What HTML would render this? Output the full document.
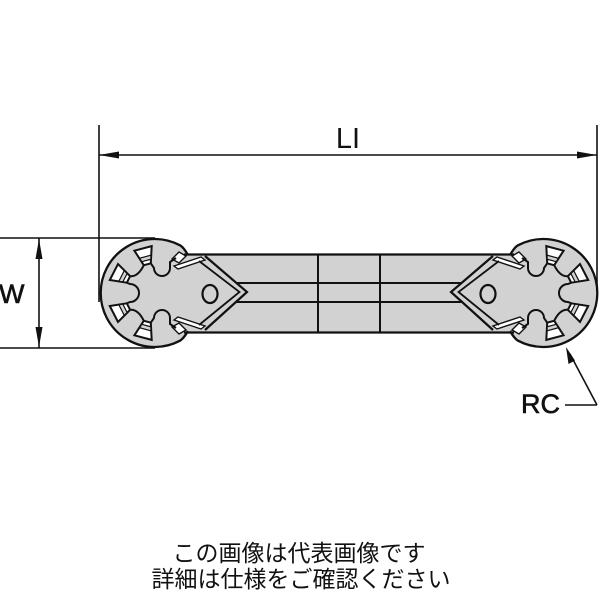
<!DOCTYPE html>
<html><head><meta charset="utf-8"><style>
html,body{margin:0;padding:0;background:#fff;}
svg{display:block;}
</style></head><body>
<svg width="600" height="600" viewBox="0 0 600 600" xmlns="http://www.w3.org/2000/svg">
<defs>
<g id="head">
  <!-- head fill + outline -->
  <path d="M188,255 C185,250 183,247 180,245.3 A54 54 0 1 0 180,340.7 C183,339 185,336 188,331" fill="#d2d2d2" stroke="#111" stroke-width="2.3"/>
  <!-- shoulder strips top -->
  <polygon points="172,259 179,252 186,256 179,263" fill="#fff" stroke="#111" stroke-width="1.4"/>
  <polygon points="174,266 201,257 205,260 178,269" fill="#fff" stroke="#111" stroke-width="1.4"/>
  <!-- shoulder strips bottom -->
  <polygon points="172,327 179,334 186,330 179,323" fill="#fff" stroke="#111" stroke-width="1.4"/>
  <polygon points="174,320 201,329 205,326 178,317" fill="#fff" stroke="#111" stroke-width="1.4"/>
  <!-- V shape -->
  <polyline points="205,256 247,292 205,330" fill="none" stroke="#111" stroke-width="2.2"/>
  <polyline points="199,261 239.5,292 199,325" fill="none" stroke="#111" stroke-width="1.8"/>
  <!-- hole -->
  <ellipse cx="210" cy="294" rx="7.5" ry="9" fill="#d2d2d2" stroke="#111" stroke-width="2.2"/>
  <!-- windows -->
  <polygon points="134.4,250.7 151.7,246.1 150.8,263.3 143.8,265.2" fill="#fff" stroke="#111" stroke-width="2"/>
  <polygon points="118.0,264.1 109.8,280.0 126.8,282.7 130.1,276.2" fill="#fff" stroke="#111" stroke-width="2"/>
  <polygon points="109.8,306.0 118.0,321.9 130.1,309.8 126.8,303.3" fill="#fff" stroke="#111" stroke-width="2"/>
  <polygon points="134.4,335.3 151.7,339.9 150.8,322.7 143.8,320.8" fill="#fff" stroke="#111" stroke-width="2"/>
  <!-- bands -->
  <polygon points="141.75,261.69 150.82,259.26 150.95,255.22 139.62,258.25" fill="#d2d2d2" stroke="#111" stroke-width="1.2"/>
  <polygon points="122.86,281.90 127.13,273.53 124.21,270.73 118.88,281.18" fill="#d2d2d2" stroke="#111" stroke-width="1.2"/>
  <polygon points="122.86,304.10 127.13,312.47 124.21,315.27 118.88,304.82" fill="#d2d2d2" stroke="#111" stroke-width="1.2"/>
  <polygon points="141.75,324.31 150.82,326.74 150.95,330.78 139.62,327.75" fill="#d2d2d2" stroke="#111" stroke-width="1.2"/>
  <!-- fingers / central boundary -->
  <path d="M176,258 L170,262 L170,268 A8 8 0 0 1 154,268 L150.8,263.3" fill="none" stroke="#111" stroke-width="2"/>
  <path d="M143.8,265.2 Q138,277 130.1,276.2" fill="none" stroke="#111" stroke-width="2"/>
  <path d="M126.8,282.7 L130,284 A9 9 0 0 1 130,302 L126.8,303.3" fill="none" stroke="#111" stroke-width="2"/>
  <path d="M130.1,309.8 Q138,309 143.8,320.8" fill="none" stroke="#111" stroke-width="2"/>
  <path d="M150.8,322.7 L154,318 A8 8 0 0 1 170,318 L170,324 L176,328" fill="none" stroke="#111" stroke-width="2"/>
</g>
</defs>

<!-- bar -->
<rect x="184" y="254.5" width="330" height="78" fill="#d2d2d2"/>
<use href="#head"/>
<use href="#head" transform="translate(698,0) scale(-1,1)"/>
<line x1="184" y1="254.5" x2="514" y2="254.5" stroke="#111" stroke-width="2.2"/>
<line x1="184" y1="332.5" x2="514" y2="332.5" stroke="#111" stroke-width="2.2"/>
<line x1="236.5" y1="283" x2="461.5" y2="283" stroke="#111" stroke-width="2"/>
<line x1="236" y1="302" x2="462" y2="302" stroke="#111" stroke-width="2"/>
<line x1="318" y1="254.5" x2="318" y2="332.5" stroke="#111" stroke-width="2"/>
<line x1="380" y1="254.5" x2="380" y2="332.5" stroke="#111" stroke-width="2"/>

<!-- LI dimension -->
<line x1="99" y1="125" x2="99" y2="302" stroke="#111" stroke-width="1.6"/>
<line x1="597" y1="125" x2="597" y2="292" stroke="#111" stroke-width="1.6"/>
<line x1="99" y1="155" x2="597" y2="155" stroke="#111" stroke-width="1.6"/>
<polygon points="99,155 119,151.5 119,158.5" fill="#111"/>
<polygon points="597,155 577,151.5 577,158.5" fill="#111"/>
<text x="348" y="148" font-family="Liberation Sans, sans-serif" font-size="29" text-anchor="middle" fill="#111">LI</text>

<!-- W dimension -->
<line x1="0" y1="238" x2="155" y2="238" stroke="#111" stroke-width="1.6"/>
<line x1="0" y1="348" x2="155" y2="348" stroke="#111" stroke-width="1.6"/>
<line x1="39" y1="238" x2="39" y2="348" stroke="#111" stroke-width="1.6"/>
<polygon points="39,239 35.5,259 42.5,259" fill="#111"/>
<polygon points="39,347 35.5,327 42.5,327" fill="#111"/>
<text x="-1" y="303" font-family="Liberation Sans, sans-serif" font-size="27" fill="#111" stroke="#111" stroke-width="0.6">W</text>

<!-- RC leader -->
<line x1="565" y1="405" x2="597" y2="405" stroke="#111" stroke-width="1.6"/>
<line x1="597" y1="405" x2="570" y2="354" stroke="#111" stroke-width="1.6"/>
<polygon points="566,347 568.5,364 575,360.5" fill="#111"/>
<text x="521" y="413" font-family="Liberation Sans, sans-serif" font-size="27" fill="#111" stroke="#111" stroke-width="0.6">RC</text>

<!-- Japanese note -->
<text x="299" y="561" font-family="Liberation Sans, Noto Sans CJK JP, sans-serif" font-size="23" text-anchor="middle" fill="#111">この画像は代表画像です</text>
<text x="301" y="587" font-family="Liberation Sans, Noto Sans CJK JP, sans-serif" font-size="23" text-anchor="middle" fill="#111">詳細は仕様をご確認ください</text>
</svg>
</body></html>
